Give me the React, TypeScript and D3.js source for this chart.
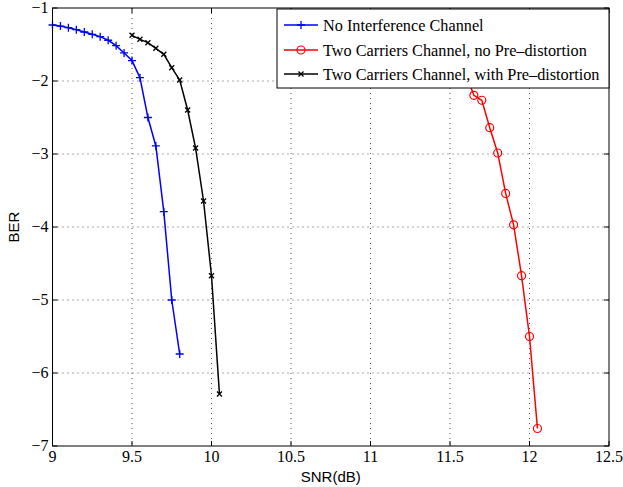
import React from 'react';
import * as d3 from 'd3';

const xTickValues = [9, 9.5, 10, 10.5, 11, 11.5, 12, 12.5];
const xTickLabels = ['9', '9.5', '10', '10.5', '11', '11.5', '12', '12.5'];
const yTickValues = [-1, -2, -3, -4, -5, -6, -7];
const yTickLabels = ['\u22121', '\u22122', '\u22123', '\u22124', '\u22125', '\u22126', '\u22127'];

const seriesNames = [
  'No Interference Channel',
  'Two Carriers Channel, no Pre\u2013distortion',
  'Two Carriers Channel, with Pre\u2013distortion',
];

const noInterfSnr = [9.0, 9.05, 9.1, 9.15, 9.2, 9.25, 9.3, 9.35, 9.4, 9.45, 9.5, 9.55, 9.6, 9.65, 9.7, 9.75, 9.8];
const noInterfBer = [-1.233, -1.247, -1.27, -1.297, -1.329, -1.36, -1.393, -1.442, -1.516, -1.616, -1.72, -1.955, -2.5, -2.89, -3.79, -5.0, -5.74];

const noPreSnr = [11.6, 11.65, 11.7, 11.75, 11.8, 11.85, 11.9, 11.95, 12.0, 12.05];
const noPreBer = [-1.9, -2.196, -2.264, -2.64, -2.986, -3.54, -3.97, -4.667, -5.5, -6.76];

const withPreSnr = [9.5, 9.55, 9.6, 9.65, 9.7, 9.75, 9.8, 9.85, 9.9, 9.95, 10.0, 10.05];
const withPreBer = [-1.374, -1.429, -1.475, -1.552, -1.634, -1.818, -1.986, -2.397, -2.918, -3.644, -4.667, -6.288];

const W = 623;
const H = 487;
const L = 52.5;
const R = 609;
const T = 8;
const B = 446;

const x = d3.scaleLinear().domain([9, 12.5]).range([L, R]);
const y = d3.scaleLinear().domain([-1, -7]).range([T, B]);

type Pt = [number, number];

function Marker({ kind, cx, cy, color }: { kind: string; cx: number; cy: number; color: string }) {
  if (kind === 'plus') {
    const s = 4;
    return (
      <path d={`M${cx - s},${cy}H${cx + s}M${cx},${cy - s}V${cy + s}`} stroke={color} strokeWidth={1.3} fill="none" />
    );
  }
  if (kind === 'circle') {
    return <circle cx={cx} cy={cy} r={4} stroke={color} strokeWidth={1.2} fill="none" />;
  }
  const s = 2.5;
  return (
    <path d={`M${cx - s},${cy - s}L${cx + s},${cy + s}M${cx - s},${cy + s}L${cx + s},${cy - s}`} stroke={color} strokeWidth={1.3} fill="none" />
  );
}

export default function App() {
  const series = [
    { name: seriesNames[0], xs: noInterfSnr, ys: noInterfBer, color: '#0000ff', marker: 'plus' },
    { name: seriesNames[1], xs: noPreSnr, ys: noPreBer, color: '#ff0000', marker: 'circle' },
    { name: seriesNames[2], xs: withPreSnr, ys: withPreBer, color: '#000000', marker: 'x' },
  ];
  const line = d3.line<Pt>().x((d) => x(d[0])).y((d) => y(d[1]));
  const serif = '"Liberation Serif", "Times New Roman", serif';
  const sans = '"Liberation Sans", Arial, sans-serif';

  const legX = 277;
  const legY = 9;
  const legW = R - legX;
  const legH = 79;
  const rowYs = [25, 50, 74];

  return (
    <svg width={W} height={H} style={{ position: 'absolute', left: 0, top: 0, background: '#fff' }}>
      <rect x={0} y={0} width={W} height={H} fill="#fff" />
      {/* grid */}
      <g stroke="#555" strokeWidth={1} strokeDasharray="1,4">
        {xTickValues.slice(1, -1).map((v) => (
          <line key={'gx' + v} x1={x(v)} x2={x(v)} y1={T} y2={B} />
        ))}
        {yTickValues.slice(1, -1).map((v) => (
          <line key={'gy' + v} x1={L} x2={R} y1={y(v)} y2={y(v)} />
        ))}
      </g>
      {/* ticks */}
      <g stroke="#000" strokeWidth={1}>
        {xTickValues.map((v) => (
          <g key={'tx' + v}>
            <line x1={x(v)} x2={x(v)} y1={B} y2={B - 5} />
            <line x1={x(v)} x2={x(v)} y1={T} y2={T + 5} />
          </g>
        ))}
        {yTickValues.map((v) => (
          <g key={'ty' + v}>
            <line x1={L} x2={L + 5} y1={y(v)} y2={y(v)} />
            <line x1={R} x2={R - 5} y1={y(v)} y2={y(v)} />
          </g>
        ))}
      </g>
      {/* series */}
      {series.map((s) => {
        const pts: Pt[] = s.xs.map((v, i) => [v, s.ys[i]]);
        return (
          <g key={s.name}>
            <path d={line(pts) || ''} stroke={s.color} strokeWidth={1.5} fill="none" />
            {pts.map((p, i) => (
              <Marker key={i} kind={s.marker} cx={x(p[0])} cy={y(p[1])} color={s.color} />
            ))}
          </g>
        );
      })}
      {/* axes box */}
      <rect x={L} y={T} width={R - L} height={B - T} fill="none" stroke="#000" strokeWidth={1} />
      {/* tick labels */}
      <g fontFamily={serif} fontSize={16} fill="#000">
        {xTickValues.map((v, i) => (
          <text key={'lx' + v} x={x(v)} y={B + 16} textAnchor="middle">
            {xTickLabels[i]}
          </text>
        ))}
        {yTickValues.map((v, i) => (
          <text key={'ly' + v} x={L - 4} y={y(v) + 5} textAnchor="end">
            {yTickLabels[i]}
          </text>
        ))}
      </g>
      {/* axis titles */}
      <text x={(L + R) / 2} y={482} textAnchor="middle" fontFamily={sans} fontSize={15}>
        SNR(dB)
      </text>
      <text transform={`translate(19,${(T + B) / 2}) rotate(-90)`} textAnchor="middle" fontFamily={sans} fontSize={15}>
        BER
      </text>
      {/* legend */}
      <rect x={legX} y={legY} width={legW} height={legH} fill="#fff" stroke="#000" strokeWidth={1} />
      {series.map((s, i) => (
        <g key={'leg' + i}>
          <line x1={284} x2={318} y1={rowYs[i]} y2={rowYs[i]} stroke={s.color} strokeWidth={1.5} />
          <Marker kind={s.marker} cx={301} cy={rowYs[i]} color={s.color} />
          <text x={323} y={rowYs[i] + 5.5} fontFamily={serif} fontSize={16.25} fill="#000">
            {s.name}
          </text>
        </g>
      ))}
    </svg>
  );
}
